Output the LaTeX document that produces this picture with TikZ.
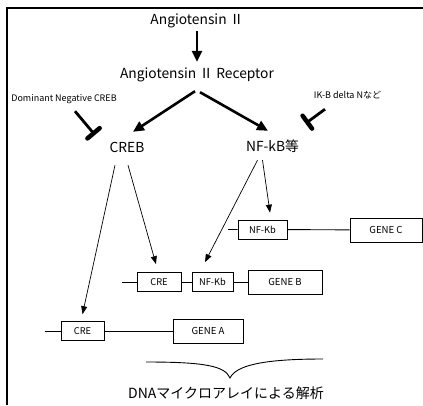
\documentclass[tikz,border=0pt]{standalone}
\usepackage{fontspec}
\setmainfont{Noto Sans CJK JP}
\usetikzlibrary{arrows.meta}

\begin{document}
\begin{tikzpicture}[x=1pt,y=-1pt,
	big/.style={font=\fontsize{13.8}{16}\selectfont, inner sep=0pt, text height=10pt, text depth=0pt},
	small/.style={font=\fontsize{9}{10}\selectfont, inner sep=0pt, text height=6.5pt, text depth=1.5pt},
	site/.style={draw, line width=0.7pt, minimum height=19pt, inner sep=0pt, font=\fontsize{9.3}{10}\selectfont},
	gene/.style={draw, line width=0.8pt, minimum height=24pt, inner sep=0pt, font=\fontsize{9.6}{11}\selectfont},
	bold arrow/.style={line width=2.6pt, -{Triangle[length=11pt,width=10pt]}},
	fine arrow/.style={line width=0.7pt, -{Triangle[length=8pt,width=6pt]}},
	block/.style={line width=2.8pt, -{Bar[width=16pt,line width=4.5pt,round]}},
	dna/.style={line width=0.9pt}]
\useasboundingbox (0,0) rectangle (423,405);
\draw[line width=2pt] (423,8) -- (7,8) -- (7,405);

\node[big] (ang) at (197,19) {Angiotensin Ⅱ};
\node[big] (rec) at (197,73) {Angiotensin Ⅱ Receptor};
\node[big] (creb) at (127,147) {CREB};
\node[big] (nfkb) at (272.5,146) {NF-kB等};
\node[small] (dnc) at (64,99) {Dominant Negative CREB};
\node[small] (ikb) at (347.5,96) {IK-B delta Nなど};
\coordinate (dncbar) at (95,135);
\coordinate (ikbbar) at (305.5,123.5);

\draw[bold arrow] ([yshift=-7pt]ang.south) -- ([yshift=6pt]rec.north);
\draw[bold arrow] ([xshift=-2pt,yshift=-13pt]rec.south) -- ([xshift=6pt,yshift=10pt]creb.north);
\draw[bold arrow] ([xshift=3pt,yshift=-14pt]rec.south) -- ([xshift=-4.5pt,yshift=10pt]nfkb.north);
\draw[block] ([xshift=11pt,yshift=-8pt]dnc.south) -- (dncbar);
\draw[block] ([xshift=-22.5pt,yshift=-9pt]ikb.south) -- (ikbbar);

\node[site, minimum width=49pt] (nfC) at (262.5,229.5) {NF-Kb};
\node[gene, minimum width=72pt] (geneC) at (386,230) {GENE C};
\coordinate (startC) at (228,229.5);
\draw[dna] (startC) -- (nfC) -- (geneC);

\node[site, minimum width=44pt] (creB) at (159,282) {CRE};
\node[site, minimum width=41pt] (nfB) at (212.5,282) {NF-Kb};
\node[gene, minimum width=74pt] (geneB) at (285,282) {GENE B};
\coordinate (startB) at (122,282);
\draw[dna] (startB) -- (creB) -- (nfB) -- (geneB);

\node[site, minimum width=43pt] (creA) at (82.5,331) {CRE};
\node[gene, minimum width=70pt] (geneA) at (208,331) {GENE A};
\coordinate (startA) at (45,331);
\draw[dna] (startA) -- (creA) -- (geneA);

\draw[fine arrow] ([xshift=-12pt,yshift=-13pt]creb.south) -- ([yshift=7pt]creA.north);
\draw[fine arrow] ([xshift=1pt,yshift=-13pt]creb.south) -- ([xshift=-3pt,yshift=8pt]creB.north);
\draw[fine arrow] ([xshift=-15pt,yshift=-9pt]nfkb.south) -- ([xshift=-7.5pt,yshift=10pt]nfB.north);
\draw[fine arrow] ([xshift=-10pt,yshift=-9pt]nfkb.south) -- ([xshift=7.5pt,yshift=7pt]nfC.north);

\draw[line width=0.9pt] (146,362) .. controls (205,362) and (225,366) .. (230,378) .. controls (236,366) and (260,359) .. (323,359);
\node[font=\fontsize{14}{16}\selectfont, inner sep=0pt] (ana) at (226,393) {DNAマイクロアレイによる解析};
\end{tikzpicture}
\end{document}
